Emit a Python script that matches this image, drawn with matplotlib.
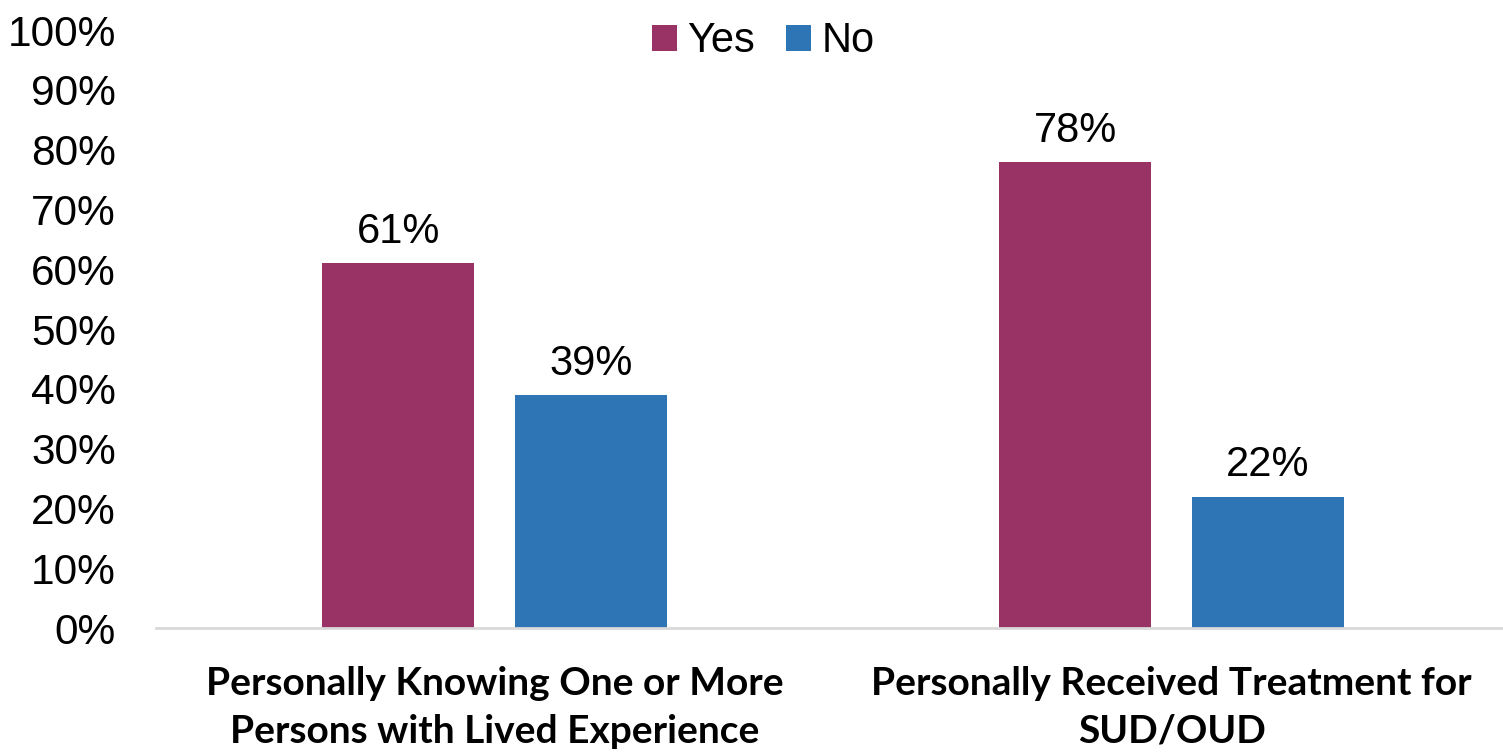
import matplotlib.pyplot as plt
import numpy as np

plt.rcParams['font.family'] = ['Liberation Sans', 'DejaVu Sans']

# 資料
categories = ['Personally Knowing One or More\nPersons with Lived Experience',
              'Personally Received Treatment for\nSUD/OUD']
yes_vals = [61, 78]
no_vals = [39, 22]
series_names = ['Yes', 'No']
colors = ['#993366', '#2E75B6']

fig = plt.figure(figsize=(15.03, 7.54), dpi=100)
ax = fig.add_axes([0.1038, 0.167, 0.901, 0.793])

x = np.arange(len(categories))
w = 0.2244
off = 0.1424

b1 = ax.bar(x - off, yes_vals, w, color=colors[0], label=series_names[0])
b2 = ax.bar(x + off, no_vals, w, color=colors[1], label=series_names[1])

for bars, vals in [(b1, yes_vals), (b2, no_vals)]:
    for b, v in zip(bars, vals):
        ax.annotate(f'{v}%', (b.get_x() + b.get_width() / 2, v),
                    xytext=(0, 8), textcoords='offset points',
                    ha='center', va='bottom', fontsize=30)

ax.set_xlim(-0.5, 1.5)
ax.set_ylim(0, 100)
ax.set_yticks(range(0, 101, 10))
ax.set_yticklabels([f'{t}%' for t in range(0, 101, 10)], fontsize=30.5)
ax.tick_params(axis='y', length=0, pad=29)
ax.tick_params(axis='x', length=0, pad=27)
ax.set_xticks(x)
ax.set_xticklabels(categories, fontsize=28, fontweight='bold',
                   family=['Lato', 'DejaVu Sans'], linespacing=1.45)

for s in ['top', 'right', 'left']:
    ax.spines[s].set_visible(False)
ax.spines['bottom'].set_color('#D9D9D9')
ax.spines['bottom'].set_linewidth(2)

fig.legend(loc='center', bbox_to_anchor=(0.508, 0.945), ncol=2, frameon=False,
           fontsize=30, handlelength=0.6, handleheight=0.6, handletextpad=0.25,
           columnspacing=0.75)

fig.savefig('out.png', dpi=100)
